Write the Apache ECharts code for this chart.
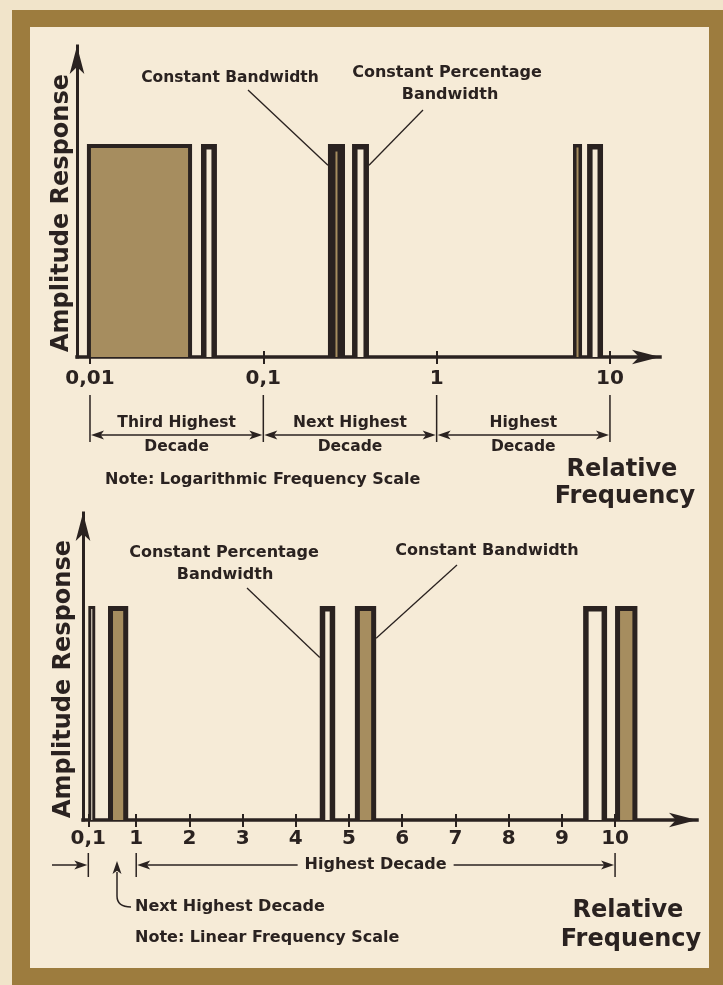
<!DOCTYPE html>
<html>
<head>
<meta charset="utf-8">
<script src="https://cdn.jsdelivr.net/npm/echarts@6/dist/echarts.min.js"></script>
<style>
  html, body { margin: 0; padding: 0; background: #f1e4ca; }
  #chart { width: 723px; height: 985px; }
</style>
</head>
<body>
<div id="chart"></div>
<script>
// ---- Logarithmic frequency panel (upper) ----
const logTicks = [0.01, 0.1, 1, 10];
const logTickLabels = ['0,01', '0,1', '1', '10'];
// filter pass bands [lower edge, upper edge] in relative frequency
const logConstBandwidth = [[0.0096, 0.0388], [0.236, 0.296], [6.12, 6.90]];
const logConstPercent = [[0.0437, 0.054], [0.325, 0.407], [7.38, 9.12]];
const decadeNames = [['Third Highest', 'Decade'], ['Next Highest', 'Decade'], ['Highest', 'Decade']];

// ---- Linear frequency panel (lower) ----
const linTicks = [0.1, 1, 2, 3, 4, 5, 6, 7, 8, 9, 10];
const linTickLabels = ['0,1', '1', '2', '3', '4', '5', '6', '7', '8', '9', '10'];
const linConstBandwidth = [[0.47, 0.85], [5.11, 5.51], [10.0, 10.42]];
const linConstPercent = [[0.10, 0.23], [4.45, 4.74], [9.40, 9.85]];

// every filter has the same amplitude response
const amplitude = 1;

const INK = '#2a2220';
const SHADE = '#a68d5f';
const PAPER = '#f6ebd7';
const FONT = 'DejaVu Sans';

const chart = echarts.init(document.getElementById('chart'), null, { renderer: 'canvas' });

// outline thickness of a band, depending on its drawn width
function strokeFor(kind, panel, w) {
  if (panel === 'log') {
    if (kind === 'bw') return w > 40 ? 4 : Math.max((w - 2) / 2, 1);
    return 5.5;
  }
  const s = kind === 'bw' ? 5 : 5.5;
  return w - 2 * s < 2 ? Math.max((w - 1) / 2, 1) : s;
}

function bandSeries(name, bands, kind, panel, xi, yi) {
  return {
    type: 'custom',
    name: name,
    xAxisIndex: xi,
    yAxisIndex: yi,
    data: bands.map(b => [b[0], b[1], amplitude]),
    encode: { x: [0, 1], y: 2 },
    clip: false,
    z: 3,
    renderItem: function (params, api) {
      const p0 = api.coord([api.value(0), 0]);
      const p1 = api.coord([api.value(1), api.value(2)]);
      const left = p0[0], right = p1[0], top = p1[1], bottom = p0[1];
      const w = right - left;
      const s = strokeFor(kind, panel, w);
      const iw = Math.max(w - 2 * s, 1);
      return {
        type: 'group',
        children: [
          { type: 'rect', shape: { x: left, y: top, width: w, height: bottom - top }, style: { fill: INK } },
          { type: 'rect', shape: { x: left + (w - iw) / 2, y: top + s, width: iw, height: bottom - top - s },
            style: { fill: kind === 'bw' ? SHADE : PAPER } }
        ]
      };
    }
  };
}

function labelFrom(ticks, labels, isLog) {
  return function (v) {
    let i = ticks.findIndex(t => isLog ? Math.abs(Math.log10(t) - Math.log10(v)) < 1e-6 : Math.abs(t - v) < 1e-9);
    if (i < 0 && isLog) i = ticks.findIndex(t => Math.abs(Math.log10(t) - v) < 1e-6);
    return i >= 0 ? labels[i] : '';
  };
}

const axisLineStyle = { color: INK, width: 3.5, cap: 'square' };
const tickLabelStyle = { color: INK, fontFamily: FONT, fontWeight: 'bold', fontSize: 20 };

const option = {
  backgroundColor: '#f1e4ca',
  animation: false,
  grid: [
    { left: 77, top: 46, width: 583, height: 311 },
    { left: 83, top: 513, width: 614, height: 307 }
  ],
  xAxis: [
    {
      gridIndex: 0, type: 'log', logBase: 10, min: 0.008414, max: 19.44,
      axisLine: { lineStyle: axisLineStyle, symbol: ['none', 'arrow'], symbolSize: [11, 28] },
      axisTick: { customValues: logTicks, length: 7, lineStyle: { color: INK, width: 2 } },
      axisLabel: Object.assign({ customValues: logTicks, margin: 12, formatter: labelFrom(logTicks, logTickLabels, true) }, tickLabelStyle),
      splitLine: { show: false }, minorTick: { show: false }
    },
    {
      gridIndex: 0, type: 'log', logBase: 10, min: 0.008414, max: 19.44, position: 'bottom',
      axisLine: { show: false },
      axisTick: { customValues: logTicks, inside: true, length: 6, lineStyle: { color: INK, width: 2 } },
      axisLabel: { show: false }, splitLine: { show: false }
    },
    {
      gridIndex: 1, type: 'value', min: 0, max: 11.54,
      axisLine: { lineStyle: axisLineStyle, symbol: ['none', 'arrow'], symbolSize: [11, 28] },
      axisTick: { customValues: linTicks, length: 7, lineStyle: { color: INK, width: 2 } },
      axisLabel: Object.assign({ customValues: linTicks, margin: 9, formatter: labelFrom(linTicks, linTickLabels, false) }, tickLabelStyle),
      splitLine: { show: false }
    },
    {
      gridIndex: 1, type: 'value', min: 0, max: 11.54, position: 'bottom',
      axisLine: { show: false },
      axisTick: { customValues: linTicks, inside: true, length: 6, lineStyle: { color: INK, width: 2 } },
      axisLabel: { show: false }, splitLine: { show: false }
    }
  ],
  yAxis: [
    {
      gridIndex: 0, type: 'value', min: 0, max: 1.46,
      axisLine: { lineStyle: { color: INK, width: 3, cap: 'square' }, symbol: ['none', 'arrow'], symbolSize: [11, 28] },
      axisTick: { show: false }, axisLabel: { show: false }, splitLine: { show: false }
    },
    {
      gridIndex: 1, type: 'value', min: 0, max: 1.435,
      axisLine: { lineStyle: { color: INK, width: 3, cap: 'square' }, symbol: ['none', 'arrow'], symbolSize: [11, 28] },
      axisTick: { show: false }, axisLabel: { show: false }, splitLine: { show: false }
    }
  ],
  series: [
    bandSeries('Constant Bandwidth', logConstBandwidth, 'bw', 'log', 0, 0),
    bandSeries('Constant Percentage Bandwidth', logConstPercent, 'pct', 'log', 0, 0),
    bandSeries('Constant Bandwidth', linConstBandwidth, 'bw', 'lin', 2, 1),
    bandSeries('Constant Percentage Bandwidth', linConstPercent, 'pct', 'lin', 2, 1)
  ]
};
chart.setOption(option);

// ---- annotations placed through the axes ----
const px = (xi, v) => chart.convertToPixel({ xAxisIndex: xi }, v);
const py = (yi, v) => chart.convertToPixel({ yAxisIndex: yi }, v);

function text(str, x, y, size, align, extra) {
  return Object.assign({
    type: 'text', x: x, y: y, z: 50,
    style: { text: str, fill: INK, font: 'bold ' + size + 'px "' + FONT + '"', align: align || 'center', verticalAlign: 'middle' }
  }, extra || {});
}
function line(x1, y1, x2, y2, w) {
  return { type: 'line', z: 50, shape: { x1: x1, y1: y1, x2: x2, y2: y2 }, style: { stroke: INK, lineWidth: w || 1.5 } };
}
// filled arrow head with its tip at (x, y) pointing along (dx, dy)
function head(x, y, dx, dy, len, half) {
  const n = Math.hypot(dx, dy); dx /= n; dy /= n;
  const bx = x - dx * len, by = y - dy * len;
  return { type: 'polygon', z: 51, shape: { points: [[x, y], [bx - dy * half, by + dx * half], [bx + dx * len * 0.25, by + dy * len * 0.25], [bx + dy * half, by - dx * half]] }, style: { fill: INK } };
}

const g = [];
// paper with its brown frame
g.push({ type: 'rect', z: -100, shape: { x: 12, y: 10, width: 720, height: 990 }, style: { fill: '#9d7c3e' } });
g.push({ type: 'rect', z: -99, shape: { x: 30, y: 27, width: 679, height: 941 }, style: { fill: PAPER } });

// upper panel titles
g.push(text('Amplitude Response', 62, 213, 24, 'center', { rotation: Math.PI / 2 }));
g.push(text('Constant Bandwidth', 230, 78, 15.5));
g.push(text('Constant Percentage', 447, 73, 16));
g.push(text('Bandwidth', 450, 95, 16));
g.push(line(248, 90, px(0, logConstBandwidth[1][0]), py(0, 0.9), 1.3));
g.push(line(423, 110, px(0, logConstPercent[1][1]), py(0, 0.9), 1.3));

// decade brackets under the logarithmic axis
const bracketY = 435;
logTicks.forEach(t => g.push(line(px(0, t), 395, px(0, t), 442, 1.5)));
for (let i = 0; i < 3; i++) {
  const a = px(0, logTicks[i]), b = px(0, logTicks[i + 1]);
  g.push(line(a + 8, bracketY, b - 8, bracketY, 1.5));
  g.push(head(a + 1, bracketY, -1, 0, 13, 4.5));
  g.push(head(b - 1, bracketY, 1, 0, 13, 4.5));
  const cx = (a + b) / 2;
  g.push(text(decadeNames[i][0], cx, bracketY - 12, 15.5));
  g.push(text(decadeNames[i][1], cx, bracketY + 12, 15.5));
}
g.push(text('Note: Logarithmic Frequency Scale', 105, 480, 16, 'left'));
g.push(text('Relative', 622, 470, 24));
g.push(text('Frequency', 625, 497, 24));

// lower panel titles
g.push(text('Amplitude Response', 64, 679, 24, 'center', { rotation: Math.PI / 2 }));
g.push(text('Constant Percentage', 224, 553, 16));
g.push(text('Bandwidth', 225, 575, 16));
g.push(text('Constant Bandwidth', 487, 551, 16));
g.push(line(247, 588, px(2, linConstPercent[1][0]), py(1, 0.76), 1.3));
g.push(line(457, 565, px(2, linConstBandwidth[1][1]), py(1, 0.85), 1.3));

// decade markers under the linear axis
const x01 = px(2, 0.1), x1 = px(2, 1), x10 = px(2, 10);
const markY = 865;
g.push(line(x01, 853, x01, 877, 1.5));
g.push(line(52, markY, x01 - 10, markY, 1.5));
g.push(head(x01 - 1, markY, 1, 0, 13, 4.5));
g.push({ type: 'polyline', z: 50, shape: { points: [[117, 872], [117, 896]] }, style: { stroke: INK, lineWidth: 1.5, fill: null } });
g.push({ type: 'bezierCurve', z: 50, shape: { x1: 117, y1: 896, x2: 131, y2: 907, cpx1: 117, cpy1: 907 }, style: { stroke: INK, lineWidth: 1.5, fill: null } });
g.push(head(117, 861, 0, -1, 13, 4.5));
g.push(text('Next Highest Decade', 135, 907, 16, 'left'));
g.push(text('Note: Linear Frequency Scale', 135, 938, 16, 'left'));

g.push(line(x1, 853, x1, 877, 1.5));
g.push(line(x10, 853, x10, 877, 1.5));
const midX = (x1 + x10) / 2;
g.push(line(x1 + 8, markY, midX - 78, markY, 1.5));
g.push(line(midX + 78, markY, x10 - 8, markY, 1.5));
g.push(head(x1 + 1, markY, -1, 0, 13, 4.5));
g.push(head(x10 - 1, markY, 1, 0, 13, 4.5));
g.push(text('Highest Decade', midX, markY, 16));
g.push(text('Relative', 628, 911, 24));
g.push(text('Frequency', 631, 940, 24));

chart.setOption({ graphic: g });
</script>
</body>
</html>
